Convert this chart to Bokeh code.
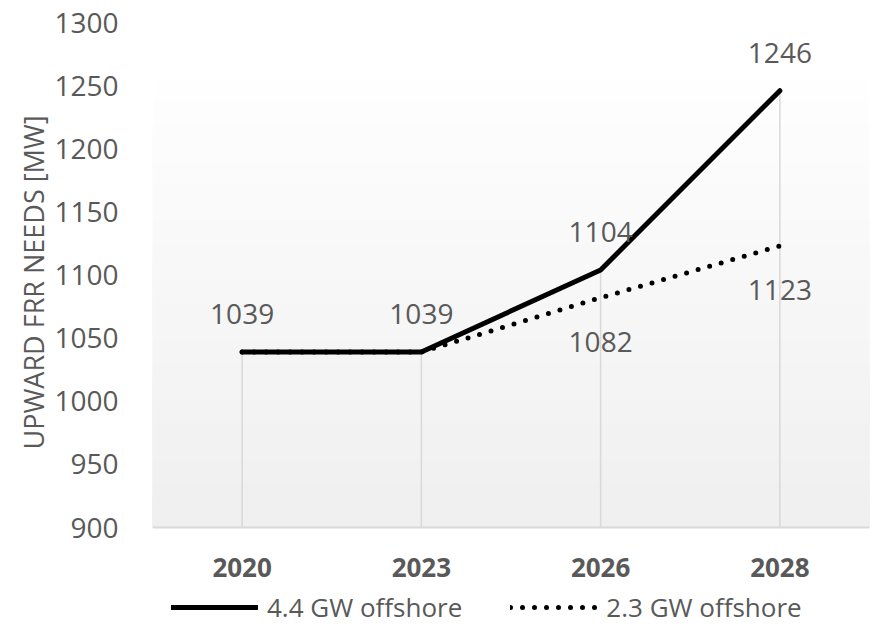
from bokeh.plotting import figure
from bokeh.models import (FactorRange, Range1d, BoxAnnotation, Legend, LegendItem,
                          FixedTicker, Title)
from bokeh.core.properties import value
from bokeh.embed import file_html
from bokeh.resources import INLINE

# Upward FRR needs per year for two offshore wind scenarios (MW)
years = ["2020", "2023", "2026", "2028"]
offshore_44 = [1039, 1039, 1104, 1246]
offshore_23 = [1039, 1039, 1082, 1123]

# the 2.3 GW series is only labelled where it leaves the 4.4 GW line
labelled_23_years = ["2026", "2028"]
labelled_23_values = [1082, 1123]

y_ticks = [900, 950, 1000, 1050, 1100, 1150, 1200, 1250, 1300]

Y_AXIS_MIN, Y_MAX = 900, 1300
FILL_TOP = 1255          # upper edge of the shaded plot area

# layout in pixels: the category axis sits at Y_AXIS_MIN, and the frame runs
# on below it so the legend underneath can live inside the frame
WIDTH, HEIGHT = 876, 624
FRAME_TOP, AXIS_Y = 22, 527
px_per_unit = (AXIS_Y - FRAME_TOP) / (Y_MAX - Y_AXIS_MIN)
y_start = Y_AXIS_MIN - (HEIGHT - AXIS_Y) / px_per_unit
# distance from the bottom of the frame to where the value-axis title starts
TITLE_OFFSET = 175

FONT = "Open Sans"
GREY = "#595959"
LIGHT = "#d9d9d9"

p = figure(width=WIDTH, height=HEIGHT,
           x_range=FactorRange(factors=years, range_padding=0),
           y_range=Range1d(y_start, Y_MAX),
           output_backend="svg", toolbar_location=None,
           min_border_left=152, min_border_right=7,
           min_border_top=FRAME_TOP, min_border_bottom=0)
p.background_fill_color = "white"
p.border_fill_color = "white"
p.outline_line_color = None
p.grid.visible = False

# soft vertical gradient behind the data, light at the top, grey at the bottom
n_bands = 60
for i in range(n_bands, 0, -1):
    top = Y_AXIS_MIN + (FILL_TOP - Y_AXIS_MIN) * i / n_bands
    shade = round(239 + (254 - 239) * i / n_bands)
    p.add_layout(BoxAnnotation(bottom=Y_AXIS_MIN, top=top,
                               fill_color="#%02x%02x%02x" % (shade, shade, shade),
                               fill_alpha=1, line_color=None, level="underlay"))

# drop lines from the highest point of each year to the axis
drop_top = [max(a, b) for a, b in zip(offshore_44, offshore_23)]
p.segment(x0=years, y0=[Y_AXIS_MIN] * len(years), x1=years, y1=drop_top,
          line_color=LIGHT, line_width=1.5)

r44 = p.line(years, offshore_44, line_color="black", line_width=5,
             line_join="round", line_cap="round")
r23 = p.line(years, offshore_23, line_color="black", line_width=5,
             line_dash="0 12", line_cap="round")

label_style = dict(text_align="center", text_baseline="middle",
                   text_font=value(FONT), text_font_size="28px", text_color=GREY)
p.text(x=years, y=offshore_44, text=[str(v) for v in offshore_44],
       y_offset=-38, **label_style)
p.text(x=labelled_23_years, y=labelled_23_values,
       text=[str(v) for v in labelled_23_values], y_offset=44, **label_style)

# axes
p.xaxis.fixed_location = Y_AXIS_MIN
p.xaxis.axis_line_color = LIGHT
p.xaxis.axis_line_width = 2
p.xaxis.major_tick_line_color = None
p.xaxis.minor_tick_line_color = None
p.xaxis.major_label_standoff = 24
p.xaxis.major_label_text_font = FONT
p.xaxis.major_label_text_font_style = "bold"
p.xaxis.major_label_text_font_size = "26px"
p.xaxis.major_label_text_color = GREY

p.yaxis.ticker = FixedTicker(ticks=y_ticks)
p.yaxis.axis_line_color = None
p.yaxis.major_tick_line_color = None
p.yaxis.minor_tick_line_color = None
p.yaxis.major_label_standoff = 28
p.yaxis.major_label_text_font = FONT
p.yaxis.major_label_text_font_size = "28px"
p.yaxis.major_label_text_color = GREY

p.add_layout(Title(text="UPWARD FRR NEEDS [MW]", align="left",
                   offset=TITLE_OFFSET, standoff=0,
                   text_font=FONT, text_font_style="normal",
                   text_font_size="27px", text_color=GREY), "left")

legend = Legend(items=[LegendItem(label="4.4 GW offshore", renderers=[r44]),
                       LegendItem(label="2.3 GW offshore", renderers=[r23])],
                orientation="horizontal", location=(19, -1),
                glyph_width=87, glyph_height=24, label_height=24,
                label_standoff=9, spacing=48, padding=0, margin=0,
                border_line_color=None, background_fill_alpha=0,
                label_text_font=FONT, label_text_font_size="26px",
                label_text_color=GREY)
p.add_layout(legend)

open("out.html", "w").write(file_html(p, INLINE))
